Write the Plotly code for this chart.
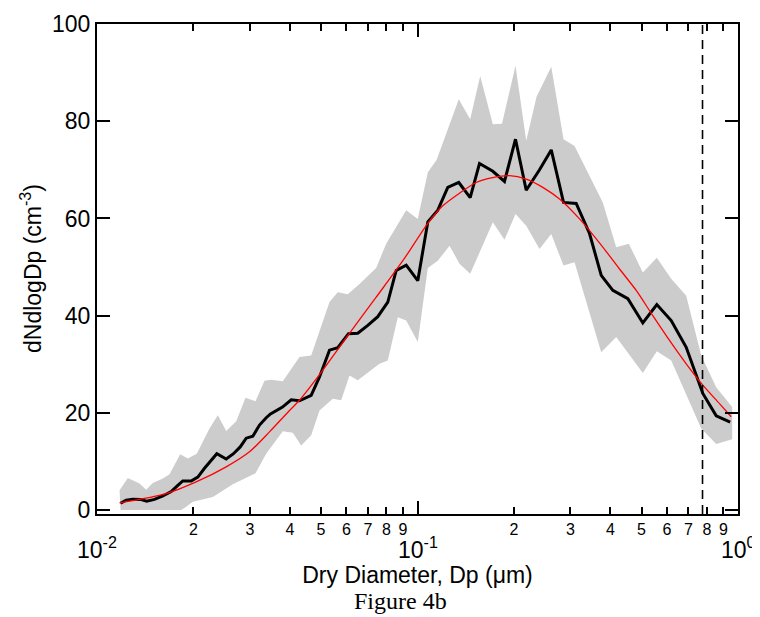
import numpy as np
import plotly.graph_objects as go

# ---- data ----
# mean size distribution (black line)
dp_mean = [0.01184, 0.01233, 0.01293, 0.01364, 0.0143, 0.01511, 0.01605, 0.01704, 0.01787, 0.01852,
           0.01967, 0.02063, 0.02165, 0.02365, 0.0253, 0.02666, 0.02798, 0.02921, 0.03063, 0.03214,
           0.03372, 0.03478, 0.03791, 0.04036, 0.04283, 0.04659, 0.04946, 0.05314, 0.0564, 0.06091,
           0.06512, 0.06997, 0.07517, 0.08078, 0.08581, 0.0922, 0.1002, 0.1077, 0.1157, 0.1243,
           0.1345, 0.146, 0.1561, 0.1718, 0.1868, 0.2022, 0.2184, 0.2403, 0.2614, 0.2855,
           0.3127, 0.3441, 0.3743, 0.4069, 0.4532, 0.5047, 0.5581, 0.6189, 0.6893, 0.7585,
           0.7767, 0.8551, 0.9456]
mean_vals = [1.4, 2.05, 2.26, 2.2, 1.85, 2.2, 2.9, 3.8, 5.1, 6.0,
             6.0, 6.8, 8.6, 11.6, 10.5, 11.6, 13.0, 14.8, 15.2, 17.5,
             19.0, 19.8, 21.2, 22.7, 22.5, 23.6, 27.4, 32.9, 33.4, 36.3,
             36.4, 38.0, 39.8, 42.8, 49.3, 50.4, 47.2, 59.3, 61.7, 66.4,
             67.4, 64.3, 71.3, 69.7, 67.6, 76.3, 65.8, 70.0, 74.1, 63.3,
             63.1, 56.9, 48.3, 45.2, 43.5, 38.5, 42.3, 39.0, 33.5, 26.0,
             24.0, 19.4, 18.1]

# upper edge of the grey variability band
dp_upper = [0.01176, 0.01248, 0.01357, 0.01424, 0.01493, 0.01605, 0.01684, 0.01818, 0.0192, 0.02048,
            0.02244, 0.02382, 0.0253, 0.02719, 0.02906, 0.03123, 0.03331, 0.03495, 0.03799, 0.04283,
            0.04659, 0.05314, 0.0564, 0.0606, 0.06592, 0.07431, 0.07985, 0.0922, 0.1002, 0.1077,
            0.1147, 0.1345, 0.146, 0.1569, 0.1718, 0.1835, 0.2022, 0.2184, 0.2351, 0.2614,
            0.2855, 0.309, 0.3786, 0.4169, 0.4564, 0.5047, 0.5581, 0.6189, 0.6893, 0.7678,
            0.8551, 0.9592]
upper_vals = [4.1, 6.6, 5.5, 4.2, 5.6, 6.5, 7.4, 11.5, 10.6, 11.6,
              16.8, 19.5, 16.3, 18.3, 23.1, 22.4, 26.6, 26.8, 26.5, 31.5,
              31.8, 42.8, 44.8, 44.4, 46.5, 49.8, 54.8, 61.7, 59.9, 69.5,
              72.0, 84.5, 80.4, 89.3, 79.4, 79.5, 91.4, 76.0, 85.0, 91.2,
              76.3, 74.9, 63.3, 54.1, 54.8, 48.9, 51.9, 47.6, 44.1, 31.8,
              25.3, 21.2]

# lower edge of the grey variability band
dp_lower = [0.01184, 0.01831, 0.01898, 0.0199, 0.02298, 0.02653, 0.03123, 0.03372, 0.03799, 0.04082,
            0.04336, 0.04659, 0.04946, 0.05442, 0.0578, 0.06135, 0.06512, 0.07609, 0.08078, 0.08681,
            0.0922, 0.1002, 0.1077, 0.1157, 0.1259, 0.1352, 0.146, 0.1718, 0.1868, 0.2022,
            0.2184, 0.2403, 0.2614, 0.2855, 0.309, 0.3743, 0.4169, 0.5047, 0.5581, 0.6189,
            0.6893, 0.7678, 0.8551, 0.9592]
lower_vals = [0, 0, 0.7, 1.7, 2.7, 5.3, 7.6, 11.6, 16.2, 15.9,
              13.3, 15.4, 20.5, 22.9, 22.6, 27.7, 26.7, 30.1, 30.8, 39.7,
              39.0, 34.6, 49.8, 51.3, 54.4, 50.7, 48.6, 59.2, 55.6, 60.9,
              58.5, 53.7, 56.8, 50.3, 51.0, 32.5, 35.6, 28.2, 32.7, 30.8,
              23.7, 16.8, 13.6, 14.6]

# fitted lognormal mode (red curve)
dp_fit = [0.01176, 0.01644, 0.02039, 0.0253, 0.02991, 0.03453, 0.04015, 0.04283, 0.04886, 0.0606,
          0.07431, 0.09, 0.1077, 0.1199, 0.1352, 0.1525, 0.1718, 0.1937, 0.2184, 0.246,
          0.2774, 0.3203, 0.3786, 0.4269, 0.4813, 0.5423, 0.6114, 0.6893, 0.7767, 0.8756,
          0.9524]
fit_vals = [1.5, 3.4, 5.8, 8.9, 12.0, 16.1, 20.7, 22.6, 27.4, 35.9,
            43.8, 51.3, 59.0, 62.6, 65.2, 67.4, 68.4, 68.8, 68.1, 66.4,
            64.0, 59.9, 54.1, 49.6, 45.2, 40.0, 34.9, 30.1, 25.7, 21.9,
            19.2]

# size cut-off (dashed vertical line)
dp_cutoff = 0.775

# axes
x_range_log = [-2, 0]
y_range = [-0.8, 100]
y_ticks = [0, 20, 40, 60, 80, 100]
decade_ticks = [0.01, 0.1, 1.0]
decade_labels = ["10<sup>-2</sup>", "10<sup>-1</sup>", "10<sup>0</sup>"]
digit_ticks = [d * 0.01 for d in range(2, 10)] + [d * 0.1 for d in range(2, 10)]
digit_labels = [str(d) for d in range(2, 10)] * 2

FONT = "Liberation Sans, Arial, sans-serif"

fig = go.Figure()

# grey band
fig.add_trace(go.Scatter(
    x=dp_upper + dp_lower[::-1],
    y=upper_vals + lower_vals[::-1],
    fill="toself", fillcolor="#cccccc", mode="lines",
    line=dict(width=0, color="#cccccc"), hoverinfo="skip", showlegend=False))

# mean
fig.add_trace(go.Scatter(x=dp_mean, y=mean_vals, mode="lines",
                         line=dict(color="black", width=3), showlegend=False))

# fit
fig.add_trace(go.Scatter(x=dp_fit, y=fit_vals, mode="lines",
                         line=dict(color="#ff0000", width=1.3, shape="spline", smoothing=0.8),
                         showlegend=False))

# cut-off line
fig.add_trace(go.Scatter(x=[dp_cutoff, dp_cutoff], y=y_range, mode="lines",
                         line=dict(color="black", width=1.6, dash="9px,6px"),
                         showlegend=False, hoverinfo="skip"))

# the page adds an 8px body margin, so margins are shifted to compensate
fig.update_layout(
    width=760, height=609,
    margin=dict(l=89, r=30, t=16, b=103, autoexpand=False),
    paper_bgcolor="white", plot_bgcolor="white",
    font=dict(family=FONT, color="black"),
    showlegend=False,
)

fig.update_xaxes(
    type="log", range=x_range_log,
    tickmode="array", tickvals=digit_ticks, ticktext=digit_labels,
    ticks="inside", ticklen=7, tickwidth=1.5, tickcolor="black",
    tickfont=dict(size=16, family=FONT),
    minor=dict(tickmode="array", tickvals=decade_ticks, ticks="inside",
               ticklen=13, tickwidth=1.5, tickcolor="black", showgrid=False),
    showgrid=False, zeroline=False,
    showline=True, linewidth=2, linecolor="black", mirror="ticks",
    title=dict(text="Dry Diameter, Dp (\u03bcm)", font=dict(size=23, family=FONT), standoff=30),
)

fig.update_yaxes(
    range=y_range, tickmode="array", tickvals=y_ticks,
    ticks="inside", ticklen=13, tickwidth=1.5, tickcolor="black",
    tickfont=dict(size=23, family=FONT),
    showgrid=False, zeroline=False,
    showline=True, linewidth=2, linecolor="black", mirror="ticks",
)

# y-axis title
fig.add_annotation(x=0, xref="paper", xshift=-66, y=0.5, yref="paper",
                   xanchor="center", yanchor="middle", textangle=-90, showarrow=False,
                   text="dNdlogDp (cm<sup>-3</sup>)",
                   font=dict(size=23, family=FONT, color="black"))

for v, lab in zip(decade_ticks, decade_labels):
    fig.add_annotation(x=np.log10(v), xref="x", y=0, yref="paper", yshift=-34,
                       yanchor="middle", xanchor="center", showarrow=False,
                       text=lab, font=dict(size=23, family=FONT, color="black"))

fig.add_annotation(x=0.4735, xref="paper", y=-0.1776, yref="paper",
                   xanchor="center", yanchor="middle", showarrow=False,
                   text="Figure 4b",
                   font=dict(size=24, family="Liberation Serif, Times New Roman, serif", color="black"))

fig.write_html("out.html")
